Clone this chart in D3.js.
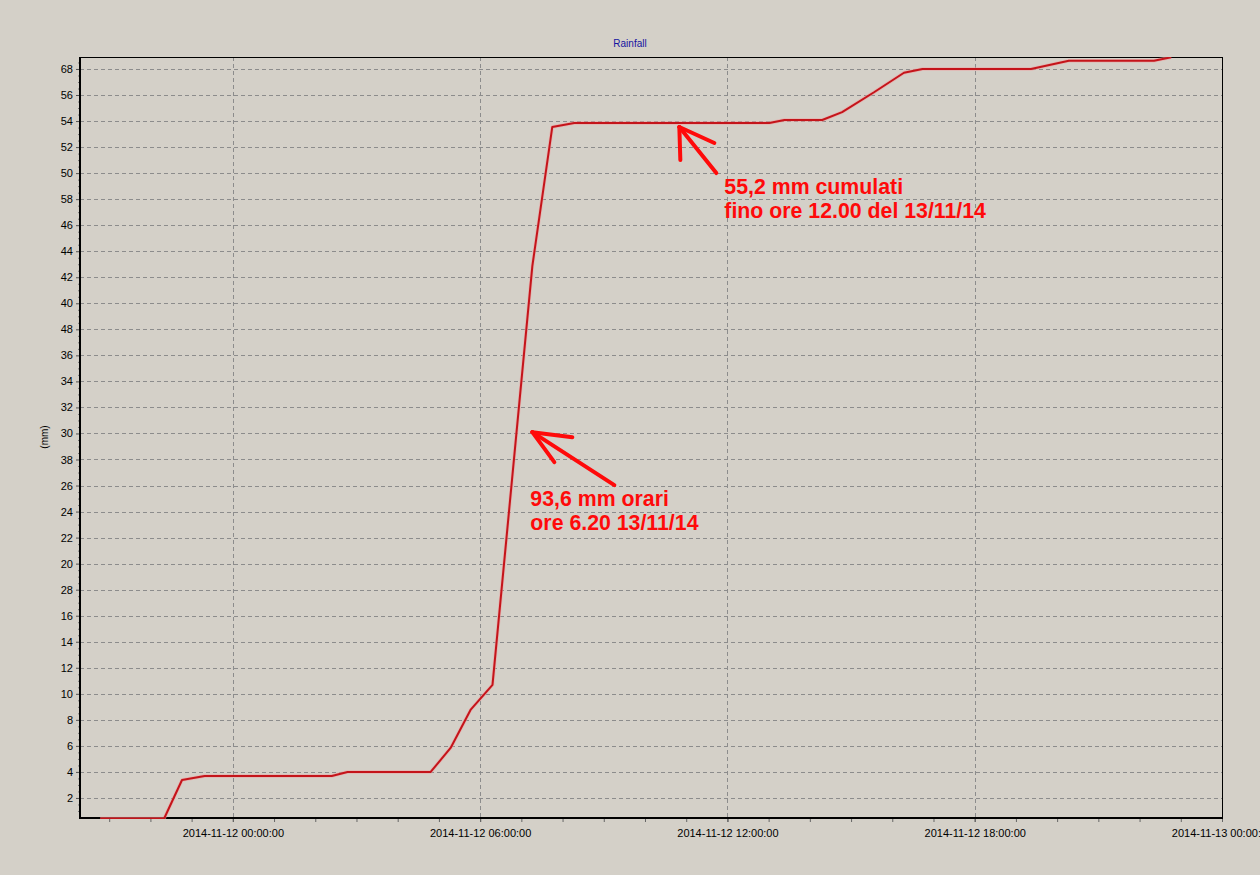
<!DOCTYPE html>
<html>
<head>
<meta charset="utf-8">
<script src="https://cdn.jsdelivr.net/npm/d3@7"></script>
<style>
  html, body { margin: 0; padding: 0; background: #d4d0c8; }
  svg { display: block; }
</style>
</head>
<body>
<svg id="chart" width="1260" height="875"></svg>
<script>
// ---------------- DATA ----------------
const times = ["2014-11-11 20:47","2014-11-11 22:20","2014-11-11 22:46","2014-11-11 23:19",
  "2014-11-12 02:24","2014-11-12 02:47","2014-11-12 04:48","2014-11-12 05:17","2014-11-12 05:46",
  "2014-11-12 06:18","2014-11-12 07:16","2014-11-12 07:45","2014-11-12 08:17","2014-11-12 13:01",
  "2014-11-12 13:23","2014-11-12 14:18","2014-11-12 14:47","2014-11-12 15:34","2014-11-12 16:17",
  "2014-11-12 16:44","2014-11-12 19:22","2014-11-12 20:17","2014-11-12 22:21","2014-11-12 22:46"];
const rainfall = [0.42,0.42,3.38,3.69,3.69,4.0,4.0,5.84,8.76,10.68,42.86,53.54,53.85,53.85,
  54.08,54.08,54.69,56.23,57.71,58.0,58.0,58.63,58.63,58.9];

const yTickValues = [2,4,6,8,10,12,14,16,18,20,22,24,26,28,30,32,34,36,38,40,42,44,46,48,50,52,54,56,58];
const yTickLabels = ["2","4","6","8","10","12","14","16","28","20","22","24","26","38","30","32","34","36","48","40","42","44","46","58","50","52","54","56","68"];

const xMajorTicks = ["2014-11-12 00:00","2014-11-12 06:00","2014-11-12 12:00","2014-11-12 18:00","2014-11-13 00:00"];
const xDomain = ["2014-11-11 20:17:30","2014-11-13 00:00"];
const yDomain = [0.46, 58.92];

const title = "Rainfall";
const yLabel = "(mm)";

const annotations = [
  { time: "2014-11-12 07:16", value: 30.1, lines: ["93,6 mm orari", "ore 6.20 13/11/14"] },
  { time: "2014-11-12 10:50", value: 53.54, lines: ["55,2 mm cumulati", "fino ore 12.00 del 13/11/14"] }
];

// ---------------- SETUP ----------------
const parse = d3.utcParse("%Y-%m-%d %H:%M");
const parseS = d3.utcParse("%Y-%m-%d %H:%M:%S");
const fmt = d3.utcFormat("%Y-%m-%d %H:%M:%S");
const data = times.map((t, i) => ({ t: parse(t), v: rainfall[i] }));

const L = 80, R = 1222, T = 57, B = 818;
const x = d3.scaleUtc().domain([parseS(xDomain[0]), parse(xDomain[1])]).range([L, R]);
const y = d3.scaleLinear().domain(yDomain).range([B, T]);

const svg = d3.select("#chart");
svg.append("rect").attr("width", 1260).attr("height", 875).attr("fill", "#d4d0c8");

const FONT = "'Liberation Sans', Arial, sans-serif";
const gridColor = "#8c8c8c";

// horizontal grid
svg.append("g").selectAll("line").data(yTickValues).join("line")
  .attr("x1", L).attr("x2", R)
  .attr("y1", d => Math.round(y(d)) + 0.5).attr("y2", d => Math.round(y(d)) + 0.5)
  .attr("stroke", gridColor).attr("stroke-width", 1).attr("stroke-dasharray", "4,3");

// vertical grid
const majors = xMajorTicks.map(parse);
svg.append("g").selectAll("line").data(majors.slice(0, -1)).join("line")
  .attr("x1", d => Math.round(x(d)) + 0.5).attr("x2", d => Math.round(x(d)) + 0.5)
  .attr("y1", T).attr("y2", B)
  .attr("stroke", gridColor).attr("stroke-width", 1).attr("stroke-dasharray", "4,3");

// plot border (top, right thin)
svg.append("line").attr("x1", L).attr("x2", R + 0.5).attr("y1", T + 0.5).attr("y2", T + 0.5)
  .attr("stroke", "#000").attr("stroke-width", 1);
svg.append("line").attr("x1", R + 0.5).attr("x2", R + 0.5).attr("y1", T).attr("y2", B)
  .attr("stroke", "#000").attr("stroke-width", 1);

// X axis
const minorX = d3.utcMinute.every(90).range(x.domain()[0], d3.utcMinute.offset(x.domain()[1], 1))
  .filter(d => x(d) >= L && x(d) <= R + 1);
const xAxis = d3.axisBottom(x).tickValues(majors).tickFormat(fmt).tickSize(4).tickSizeOuter(0);
const gx = svg.append("g").attr("transform", `translate(0,${B})`).call(xAxis);
gx.select(".domain").remove();
gx.selectAll(".tick line").attr("stroke", "#555");
gx.selectAll("text").attr("font-family", FONT).attr("font-size", 11).attr("fill", "#000").attr("dy", "1.05em");
svg.append("g").attr("transform", `translate(0,${B})`)
  .call(d3.axisBottom(x).tickValues(minorX).tickFormat("").tickSize(4).tickSizeOuter(0))
  .call(g => g.select(".domain").remove())
  .call(g => g.selectAll(".tick line").attr("stroke", "#666"));

// Y axis
const yAxis = d3.axisLeft(y).tickValues(yTickValues)
  .tickFormat((d, i) => yTickLabels[i]).tickSize(4).tickSizeOuter(0);
const gy = svg.append("g").attr("transform", `translate(${L},0)`).call(yAxis);
gy.select(".domain").remove();
gy.selectAll(".tick line").attr("stroke", "#555");
gy.selectAll("text").attr("font-family", FONT).attr("font-size", 11).attr("fill", "#000").attr("x", -7);
const minorY = d3.range(1, 59, 0.5).filter(v => yTickValues.indexOf(v) < 0);
svg.append("g").attr("transform", `translate(${L},0)`)
  .call(d3.axisLeft(y).tickValues(minorY).tickFormat("").tickSize(2).tickSizeOuter(0))
  .call(g => g.select(".domain").remove())
  .call(g => g.selectAll(".tick line").attr("stroke", "#777"));

// axis lines (thick)
svg.append("line").attr("x1", L).attr("x2", L).attr("y1", T).attr("y2", B + 1)
  .attr("stroke", "#000").attr("stroke-width", 2);
svg.append("line").attr("x1", L - 1).attr("x2", R + 1).attr("y1", B).attr("y2", B)
  .attr("stroke", "#000").attr("stroke-width", 2);

// series line
svg.append("defs").append("clipPath").attr("id", "clip")
  .append("rect").attr("x", L).attr("y", T).attr("width", R - L).attr("height", B - T + 1);
const line = d3.line().x(d => x(d.t)).y(d => y(d.v));
svg.append("path").datum(data)
  .attr("clip-path", "url(#clip)")
  .attr("d", line).attr("fill", "none")
  .attr("stroke", "#f0a0a0").attr("stroke-width", 3.5).attr("stroke-linejoin", "round").attr("opacity", 0.6);
svg.append("path").datum(data)
  .attr("clip-path", "url(#clip)")
  .attr("d", line).attr("fill", "none")
  .attr("stroke", "#c4141a").attr("stroke-width", 2).attr("stroke-linejoin", "round");

// title and y label
svg.append("text").attr("x", 630).attr("y", 47).attr("text-anchor", "middle")
  .attr("font-family", FONT).attr("font-size", 10).attr("fill", "#1414a0").text(title);
svg.append("text").attr("transform", "translate(48,437) rotate(-90)").attr("text-anchor", "middle")
  .attr("font-family", FONT).attr("font-size", 10).attr("fill", "#000").text(yLabel);

// annotations (arrow geometry relative to the tip, which sits at a data point)
const arrowShapes = [
  { shaft: [82, 53], arm1: [40, 5], arm2: [22, 30], text: [-2, 74] },
  { shaft: [37, 46], arm1: [35, 16], arm2: [1, 33], text: [45, 67] }
];
annotations.forEach((a, i) => {
  const tx = x(parse(a.time)), ty = y(a.value);
  const s = arrowShapes[i];
  const g = svg.append("g").attr("stroke", "#ff0a0a").attr("stroke-width", 4).attr("stroke-linecap", "round").attr("fill", "none");
  [s.shaft, s.arm1, s.arm2].forEach(p => {
    g.append("line").attr("x1", tx).attr("y1", ty).attr("x2", tx + p[0]).attr("y2", ty + p[1]);
  });
  const t = svg.append("text").attr("font-family", FONT).attr("font-weight", "bold")
    .attr("font-size", 21.3).attr("fill", "#ff0a0a");
  a.lines.forEach((ln, j) => {
    t.append("tspan").attr("x", tx + s.text[0]).attr("y", ty + s.text[1] + j * 23.5).text(ln);
  });
});
</script>
</body>
</html>
